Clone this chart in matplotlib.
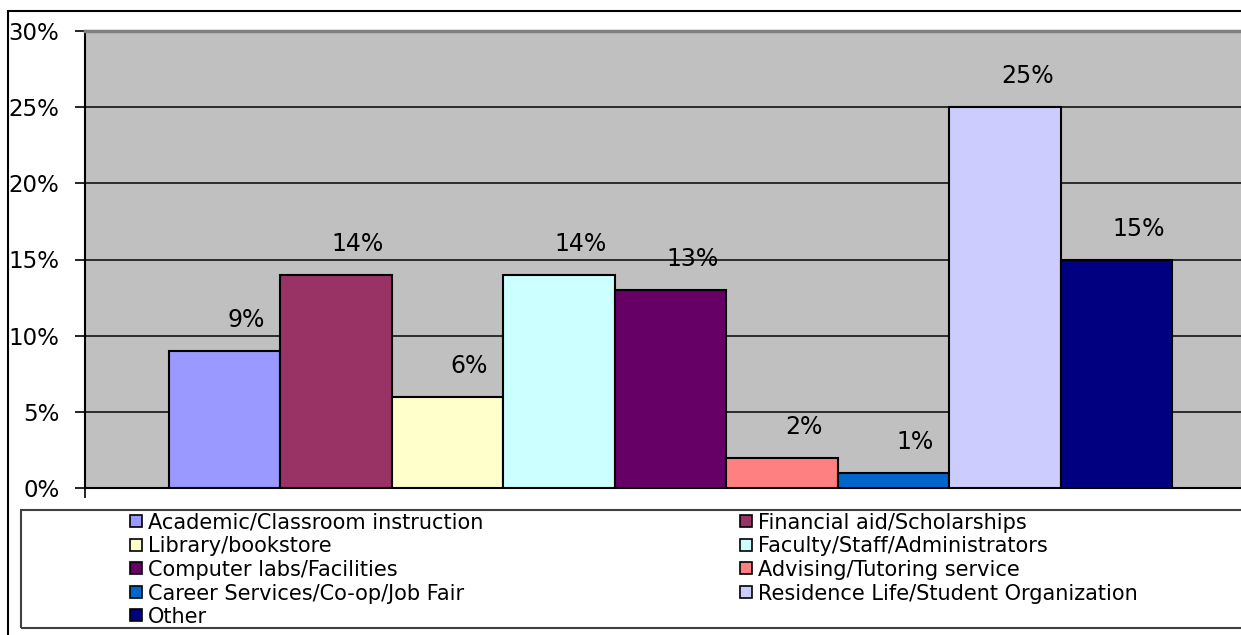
import matplotlib
matplotlib.use("Agg")
import matplotlib.pyplot as plt
from matplotlib.patches import Rectangle
from matplotlib.ticker import FuncFormatter
import numpy as np

categories = ["Academic/Classroom instruction", "Financial aid/Scholarships",
              "Library/bookstore", "Faculty/Staff/Administrators",
              "Computer labs/Facilities", "Advising/Tutoring service",
              "Career Services/Co-op/Job Fair", "Residence Life/Student Organization",
              "Other"]
values = [9, 14, 6, 14, 13, 2, 1, 25, 15]
colors = ["#9999FF", "#993366", "#FFFFCC", "#CCFFFF", "#660066",
          "#FF8080", "#0066CC", "#CCCCFF", "#000080"]
yticks = [0, 5, 10, 15, 20, 25, 30]

W, H = 1241, 635
fig = plt.figure(figsize=(W / 100, H / 100), dpi=100)
fig.patch.set_facecolor("white")

# outer chart border
fig.patches.append(Rectangle((8 / W, -0.1), 1.2, (H - 11) / H + 0.1,
                             transform=fig.transFigure, fill=False,
                             edgecolor="black", linewidth=1.5))

ax = fig.add_axes([85 / W, (H - 488) / H, (1256 - 85) / W, (488 - 31) / H])
ax.set_facecolor("#C0C0C0")

n = len(values)
x = np.arange(n) - (n - 1) / 2
ax.bar(x, values, width=1.0, color=colors, edgecolor="black", linewidth=1.5, zorder=3)
xlim = (-n / 2 - 0.75, n / 2 + 0.75)
ax.set_xlim(*xlim)
ax.set_ylim(0, 30)

for xi, v in zip(x, values):
    ax.annotate(f"{v}%", (xi, v), xytext=(22, 31), textcoords="offset pixels",
                ha="center", va="center", fontsize=17, color="black",
                family="DejaVu Sans", zorder=4)

ax.set_yticks(yticks)
ax.yaxis.set_major_formatter(FuncFormatter(lambda v, p: f"{int(v)}%"))
ax.tick_params(axis="y", direction="out", length=7, width=1.2, pad=11.5,
               labelsize=16.5, colors="black")
ax.set_xticks(list(xlim))
ax.set_xticklabels(["", ""])
ax.tick_params(axis="x", direction="out", length=7, width=1.2)
for yv in yticks[1:-1]:
    ax.axhline(yv, color="#202020", linewidth=1.3, zorder=1)

ax.spines["left"].set_color("black")
ax.spines["left"].set_linewidth(1.5)
ax.spines["bottom"].set_color("black")
ax.spines["bottom"].set_linewidth(1.5)
ax.spines["top"].set_color("#808080")
ax.spines["top"].set_linewidth(2.5)
ax.spines["right"].set_color("#808080")
ax.spines["right"].set_linewidth(2.5)
for lab in ax.get_yticklabels():
    lab.set_family("DejaVu Sans")

# legend box
fig.patches.append(Rectangle((21 / W, (H - 628) / H), 1.2, (628 - 510) / H,
                             transform=fig.transFigure, fill=False,
                             edgecolor="#404040", linewidth=1.5))

col_x = [130, 740]
row_y0, row_step = 521, 23.5
for i, (lab, c) in enumerate(zip(categories, colors)):
    row, col = divmod(i, 2)
    px = col_x[col]
    py = row_y0 + row * row_step
    fig.patches.append(Rectangle((px / W, (H - py - 6) / H), 12 / W, 12 / H,
                                 transform=fig.transFigure, facecolor=c,
                                 edgecolor="black", linewidth=1.2))
    fig.text((px + 18) / W, (H - py) / H, lab, ha="left", va="center_baseline",
             fontsize=15, family="DejaVu Sans", color="black")

fig.savefig("out.png", dpi=100)
